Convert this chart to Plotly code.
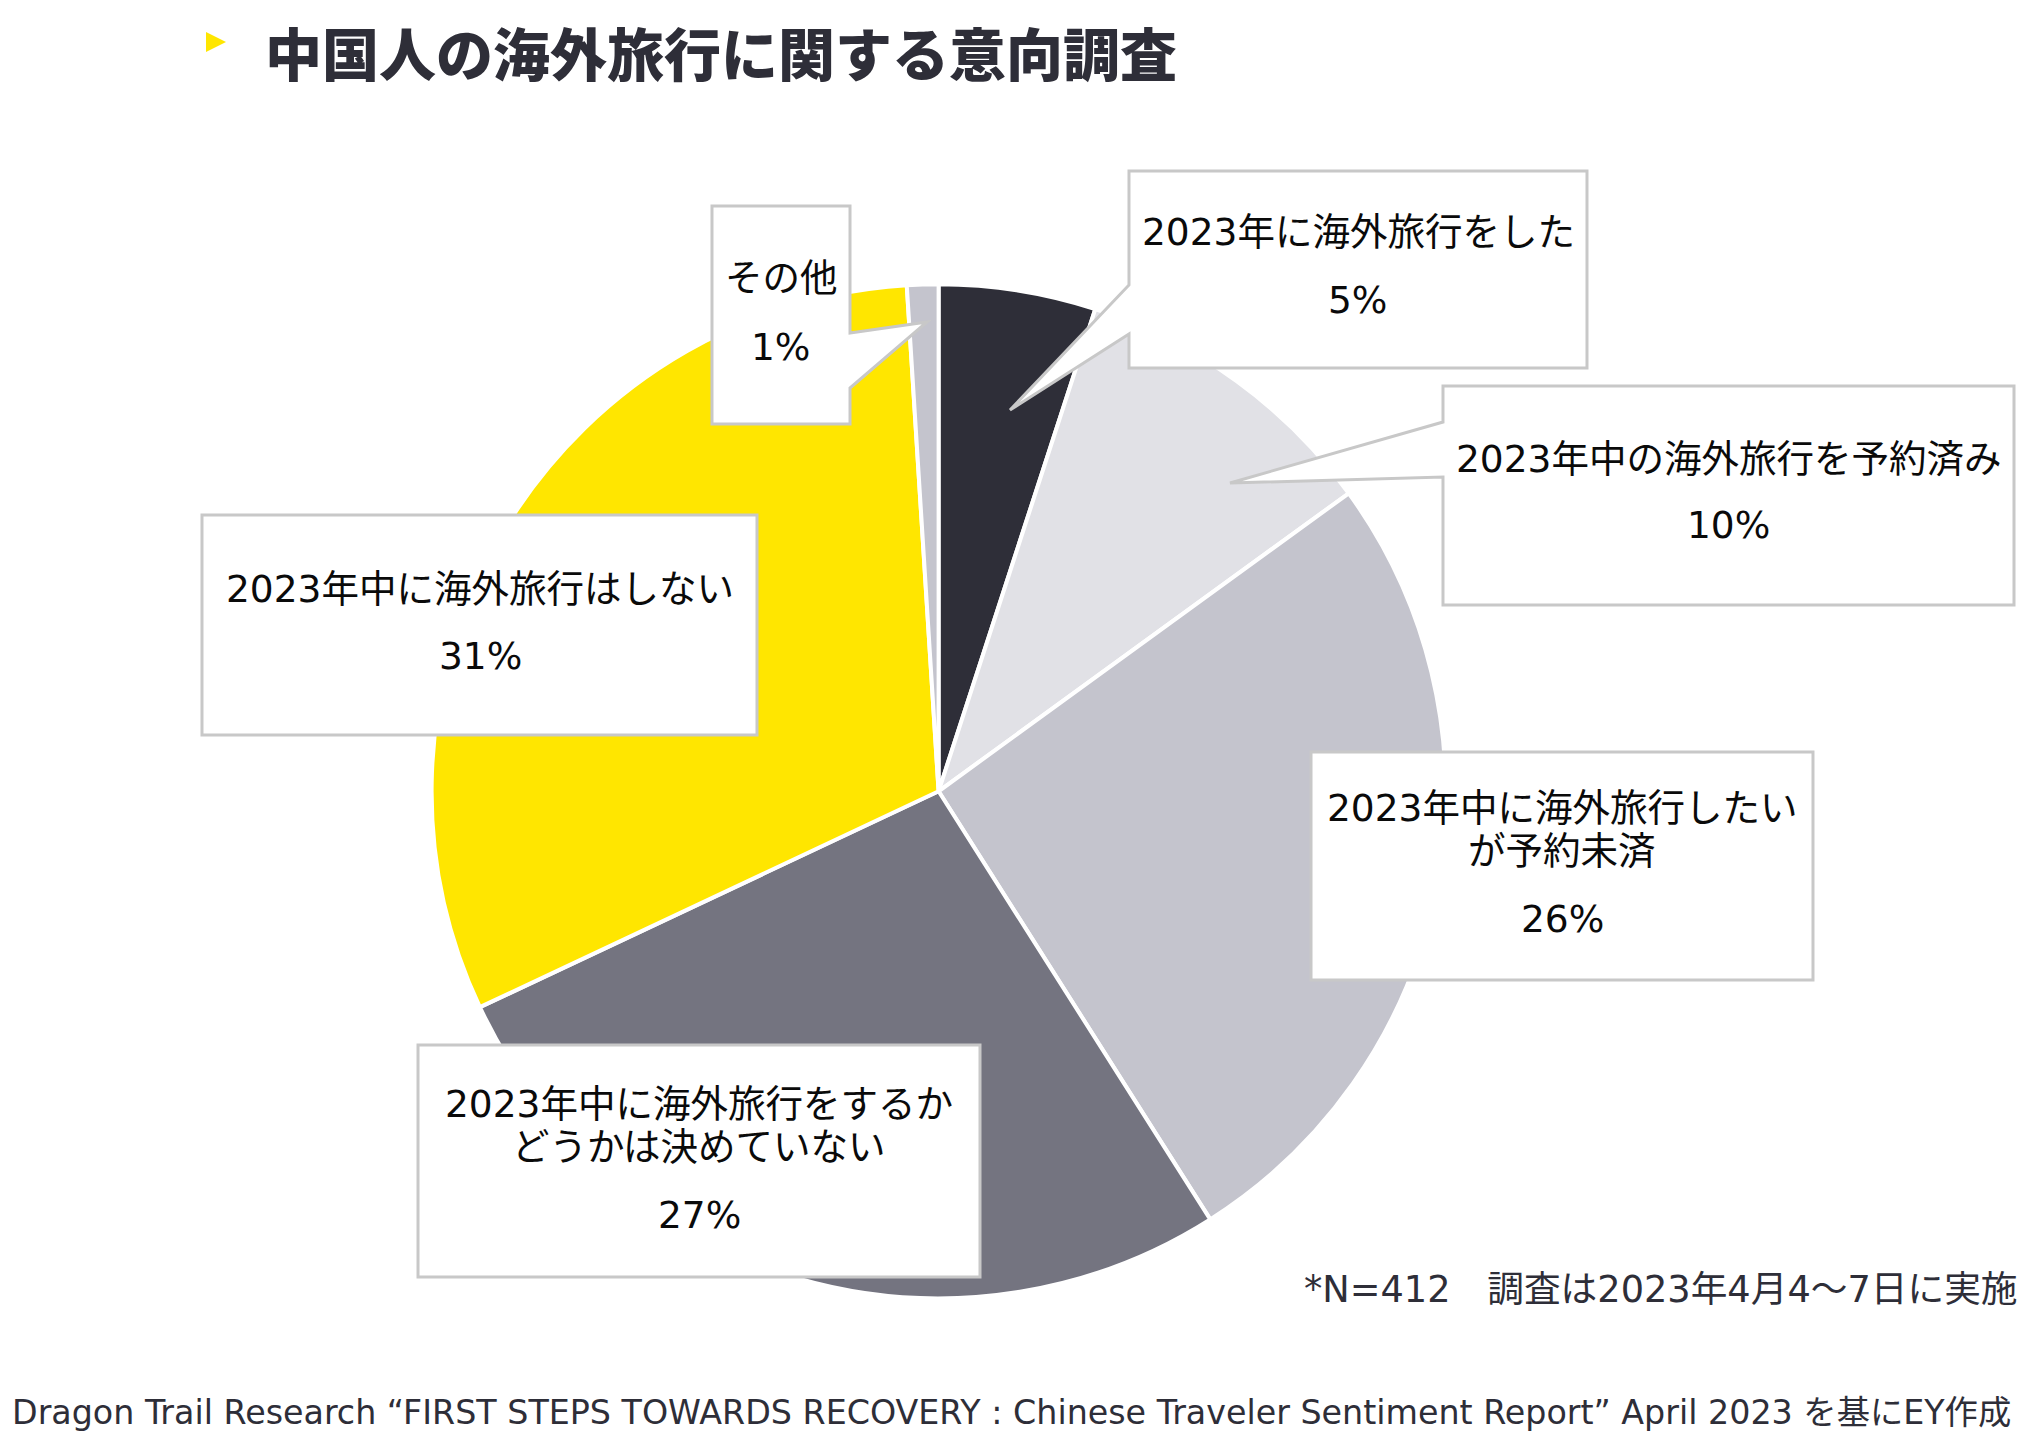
import plotly.graph_objects as go

W, H = 2044, 1443

# ---- data ----
categories = [
    "2023年に海外旅行をした",
    "2023年中の海外旅行を予約済み",
    "2023年中に海外旅行したいが予約未済",
    "2023年中に海外旅行をするかどうかは決めていない",
    "2023年中に海外旅行はしない",
    "その他",
]
values = [5, 10, 26, 27, 31, 1]
label_lines = [
    ["2023年に海外旅行をした"],
    ["2023年中の海外旅行を予約済み"],
    ["2023年中に海外旅行したい", "が予約未済"],
    ["2023年中に海外旅行をするか", "どうかは決めていない"],
    ["2023年中に海外旅行はしない"],
    ["その他"],
]
pct_labels = [f"{v}%" for v in values]
colors = ["#2e2e38", "#e1e1e6", "#c4c4cd", "#747480", "#ffe600", "#c4c4cd"]

title_text = "中国人の海外旅行に関する意向調査"
note_text = "*N=412　調査は2023年4月4～7日に実施"
source_text = ("Dragon Trail Research “FIRST STEPS TOWARDS RECOVERY : Chinese Traveler "
               "Sentiment Report” April 2023 を基にEY作成")

# ---- layout helpers (page pixel -> paper); page has an 8px body margin ----
OFF = 8

def px(x):
    return (x - OFF) / W

def py(y):
    return 1 - (y - OFF) / H

cx, cy, r = 938.6, 791.3, 507

fig = go.Figure()
fig.add_trace(go.Pie(
    labels=categories,
    values=values,
    sort=False,
    direction="clockwise",
    rotation=0,
    marker=dict(colors=colors, line=dict(color="white", width=4)),
    textinfo="none",
    hoverinfo="label+percent",
    showlegend=False,
    domain=dict(x=[px(cx - r), px(cx + r)], y=[py(cy + r), py(cy - r)]),
))

# callout boxes: (x0, y0, x1, y1), tail spec, text centre x, line ys, pct y
callouts = [
    dict(box=(1129, 171, 1587, 368), tail=("left", 285, 334, 1010, 410),
         tx=1358, ly=[232], pyy=300),
    dict(box=(1443, 386, 2014, 605), tail=("left", 422, 477, 1230, 483),
         tx=1728, ly=[459], pyy=525),
    dict(box=(1311, 752, 1813, 980), tail=None,
         tx=1562, ly=[808, 851], pyy=919),
    dict(box=(418, 1045, 980, 1277), tail=None,
         tx=699, ly=[1104, 1147], pyy=1215),
    dict(box=(202, 515, 757, 735), tail=None,
         tx=480, ly=[589], pyy=656),
    dict(box=(712, 206, 850, 424), tail=("right", 333, 388, 927, 322),
         tx=781, ly=[278], pyy=347),
]

def path_for(box, tail):
    x0, y0, x1, y1 = box
    if tail is None:
        pts = [(x0, y0), (x1, y0), (x1, y1), (x0, y1)]
    elif tail[0] == "left":
        _, a, b, tx, ty = tail
        pts = [(x0, y0), (x1, y0), (x1, y1), (x0, y1), (x0, b), (tx, ty), (x0, a)]
    else:
        _, a, b, tx, ty = tail
        pts = [(x0, y0), (x1, y0), (x1, a), (tx, ty), (x1, b), (x1, y1), (x0, y1)]
    return "M " + " L ".join(f"{px(x):.5f},{py(y):.5f}" for x, y in pts) + " Z"

shapes = []
annotations = []
txt_font = dict(family="DejaVu Sans, Noto Sans CJK JP, sans-serif", size=37.5, color="#0a0a0a")

for i, c in enumerate(callouts):
    shapes.append(dict(type="path", xref="paper", yref="paper",
                       path=path_for(c["box"], c["tail"]),
                       fillcolor="white", line=dict(color="#c8c8c8", width=3),
                       layer="above"))
    for line, yy in zip(label_lines[i], c["ly"]):
        annotations.append(dict(xref="paper", yref="paper", x=px(c["tx"]), y=py(yy),
                                text=line, showarrow=False, xanchor="center",
                                yanchor="middle", font=txt_font))
    annotations.append(dict(xref="paper", yref="paper", x=px(c["tx"]), y=py(c["pyy"]),
                            text=pct_labels[i], showarrow=False, xanchor="center",
                            yanchor="middle", font=txt_font))

# title marker triangle
shapes.append(dict(type="path", xref="paper", yref="paper",
                   path=f"M {px(206):.5f},{py(32):.5f} L {px(226):.5f},{py(42):.5f} L {px(206):.5f},{py(52):.5f} Z",
                   fillcolor="#ffe600", line=dict(width=0), layer="above"))

annotations.append(dict(xref="paper", yref="paper", x=px(263), y=1.0, text=title_text,
                        showarrow=False, xanchor="left", yanchor="top",
                        font=dict(family="Noto Sans CJK JP, sans-serif", size=57, weight=900,
                                  color="#2e2e38")))
annotations.append(dict(xref="paper", yref="paper", x=px(2020), y=py(1289), text=note_text,
                        showarrow=False, xanchor="right", yanchor="middle",
                        font=dict(family="DejaVu Sans, Noto Sans CJK JP, sans-serif", size=36.7,
                                  color="#2e2e38")))
annotations.append(dict(xref="paper", yref="paper", x=px(10), y=py(1412), text=source_text,
                        showarrow=False, xanchor="left", yanchor="middle",
                        font=dict(family="DejaVu Sans, Noto Sans CJK JP, sans-serif", size=33.3,
                                  color="#2e2e38")))

fig.update_layout(
    width=W, height=H,
    margin=dict(l=0, r=0, t=0, b=0),
    paper_bgcolor="white", plot_bgcolor="white",
    shapes=shapes, annotations=annotations,
    showlegend=False,
)

fig.write_html("out.html")
